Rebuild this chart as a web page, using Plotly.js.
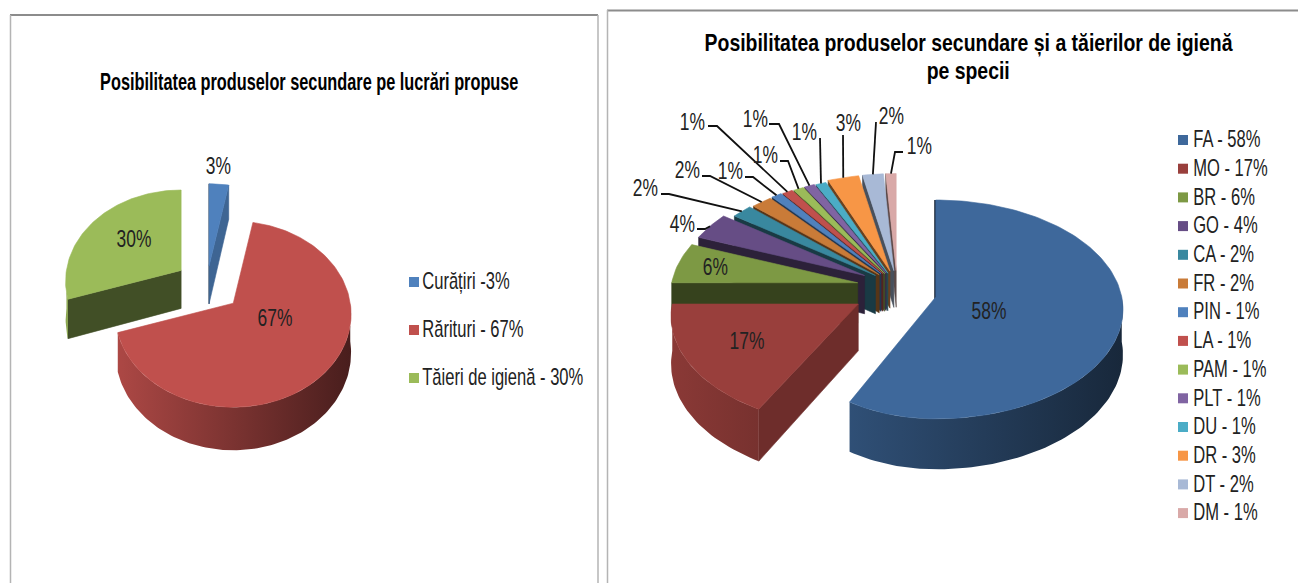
<!DOCTYPE html>
<html>
<head>
<meta charset="utf-8">
<script src="https://cdn.plot.ly/plotly-3.0.1.min.js"></script>
<style>html,body{margin:0;padding:0;background:#fff;overflow:hidden}#chart{width:1298px;height:583px}</style>
</head>
<body>
<div id="chart"></div>
<script>
// ---- data ----
const leftCategories = ["Curățiri", "Rărituri", "Tăieri de igienă"];
const leftValues = [3, 67, 30];
const leftLegendLabels = ["Curățiri -3%", "Rărituri - 67%", "Tăieri de igienă - 30%"];
const leftColors = ["#4f81bd", "#c0504d", "#9bbb59"];

const rightCategories = ["FA","MO","BR","GO","CA","FR","PIN","LA","PAM","PLT","DU","DR","DT","DM"];
const rightValues = [58, 17, 6, 4, 2, 2, 1, 1, 1, 1, 1, 3, 2, 1];
const rightLegendLabels = ["FA - 58%","MO - 17%","BR - 6%","GO - 4%","CA - 2%","FR - 2%","PIN - 1%","LA - 1%","PAM - 1%","PLT - 1%","DU - 1%","DR - 3%","DT - 2%","DM - 1%"];
const rightColors = ["#3e689b","#993f3c","#7d9944","#664d85","#39889f","#c97b38","#4f81bd","#c0504d","#9bbb59","#8064a2","#4bacc6","#f79646","#a8b9d6","#d9a9a8"];

// ---- layout / geometry (pixel-scaled axes) ----
const FONT = '"Liberation Sans", Arial, sans-serif';
const leftGeom = {cx:207, cy:284, f:.83, rx:117, ry:91.7, k:.118, pulls:[22,35,32],
  scales:{2:.98}, leftRx:{}, nudgeY:{2:2}, edgeWidth:{}, depth:() => 38};
const rightGeom = {cx:897, cy:288, f:.7, rx:186, ry:108, k:.114,
  pulls:[40,45,40,37,28,26,26,25,24,24,23,25,25,25],
  scales:{}, leftRx:{0:161}, nudgeY:{0:2}, edgeWidth:{0:3},
  depth:(ay) => 42 + .3*(ay-288)};
const leftLabelPos = [[218,165],[275,317],[134,238]];
const rightLabelPos = [[989,310],[747,340],[715,266],[682,223],[645,187],[687,169],[730,170],[692,121],[765,154],[755,118],[804,131],[848,122],[891,115],[919,145]];
const rightLeaders = {3:[705,229,697,229],4:[669,194,661,194],5:[710,176,702,176],6:[753,177,745,177],7:[717,126,708,126],8:[788,161,780,161],9:[779,124,769,124],10:[820,138,820,138],11:[843,135,843,135],12:[876,122,876,122],13:[895,152,903,152]};

const rad = d => d*Math.PI/180;
function hex(c){return [1,3,5].map(i=>parseInt(c.substr(i,2),16));}
function shade(c,f){return 'rgb('+hex(c).map(v=>Math.round(v*f)).join(',')+')';}

function pie3d(values, colors, names, g){
  const total = values.reduce((a,b)=>a+b,0);
  const out = [], rims = [];
  let acc = 0;
  const slices = values.map((v,i)=>{
    const a0 = acc/total*360; acc += v; const a1 = acc/total*360;
    const mid = rad((a0+a1)/2);
    const ax = g.cx + Math.sin(mid)*g.pulls[i];
    const ay = g.cy - Math.cos(mid)*g.pulls[i]*g.f + (g.nudgeY[i]||0);
    return {a0,a1,ax,ay,i};
  });
  const P = (s,a) => {
    const Z = Math.cos(rad(a)), X = Math.sin(rad(a)), q = 1/(1+g.k*Z);
    const sc = g.scales[s.i]||1;
    const rx = (X<0 && g.leftRx[s.i]) ? g.leftRx[s.i] : g.rx;
    return {x:s.ax+rx*sc*X*q, y:s.ay-g.ry*sc*Z*q, q};
  };
  const arc = (s,a,b) => {
    const n = Math.max(2,Math.ceil((b-a)/1.5)+1), r=[];
    for(let j=0;j<n;j++) r.push(P(s,a+(b-a)*j/(n-1)));
    return r;
  };
  const poly = (xs,ys,color,extra) => Object.assign({type:'scatter',mode:'lines',x:xs,y:ys,fill:'toself',
    fillcolor:color,line:{color:color,width:.6},hoverinfo:'skip',showlegend:false},extra||{});
  const radialWall = (s,a,color,w) => {
    const d = g.depth(s.ay), p = P(s,a);
    return poly([s.ax,p.x,p.x,s.ax,s.ax],[s.ay,p.y,p.y+d*p.q,s.ay+d,s.ay],color,{line:{color:color,width:w||.6}});
  };
  slices.slice().reverse().forEach(s=>{
    const c = colors[s.i];
    // side faces
    if(s.a0===0) out.push(radialWall(s,0,shade(c,.3),g.edgeWidth[s.i]));
    if(s.a0>180) out.push(radialWall(s,s.a0, shade(c, s.a0<270 ? .72-(s.a0-208.8)*.0069 : .43)));
    if(s.a1>0 && s.a1<180) out.push(radialWall(s,s.a1,shade(c,.78)));
    // outer wall with light falling from the left
    const w0 = Math.max(s.a0,90), w1 = Math.min(s.a1,270);
    if(w1>w0){
      const top = arc(s,w0,w1), d = g.depth(s.ay);
      const xs = top.map(p=>p.x).concat(top.slice().reverse().map(p=>p.x));
      const ys = top.map(p=>p.y).concat(top.slice().reverse().map(p=>p.y+d*p.q));
      xs.push(xs[0]); ys.push(ys[0]);
      out.push(poly(xs,ys,'rgba(0,0,0,0)',{line:{width:0},fillcolor:undefined,
        fillgradient:{type:'horizontal',start:s.ax-g.rx,stop:s.ax+g.rx,
          colorscale:[[0,shade(c,.9)],[1,shade(c,.38)]]}}));
    }
    // top face
    const rim = arc(s,s.a0,s.a1);
    rims[s.i] = P(s,(s.a0+s.a1)/2);
    out.push(poly([s.ax].concat(rim.map(p=>p.x),[s.ax]),[s.ay].concat(rim.map(p=>p.y),[s.ay]),c,
      {hoverinfo:'text',text:names[s.i]+': '+values[s.i]+'%',hoveron:'fills'}));
  });
  return {traces:out, rims};
}

const L = pie3d(leftValues,leftColors,leftCategories,leftGeom);
const R = pie3d(rightValues,rightColors,rightCategories,rightGeom);

// leader lines
const leaderTraces = Object.keys(rightLeaders).map(k=>{
  const r = R.rims[k], b = rightLeaders[k];
  return {type:'scatter',mode:'lines',x:[r.x,b[0],b[2]],y:[r.y,b[1],b[3]],
    line:{color:'#111',width:1.8},hoverinfo:'skip',showlegend:false};
});

// legends drawn as marker+text rows
function legendTrace(labels,colors,x,y0,step){
  return {type:'scatter',mode:'markers+text',
    x:labels.map(()=>x), y:labels.map((_,i)=>y0+i*step),
    text:labels, textposition:'middle right', cliponaxis:false,
    textfont:{family:FONT,size:23,color:'#222'},
    marker:{symbol:'square',size:10,color:colors,line:{width:0}},
    hoverinfo:'skip',showlegend:false};
}

const pctAnn = (vals,pos) => vals.map((v,i)=>({x:pos[i][0],y:pos[i][1],text:v+'%',showarrow:false,
  xref:'x',yref:'y',xanchor:'center',yanchor:'middle',font:{family:FONT,size:24,color:'#222'}}));
const titleAnn = (text,x,y) => ({x,y,text:'<b>'+text+'</b>',showarrow:false,xref:'x',yref:'y',
  xanchor:'center',yanchor:'middle',font:{family:FONT,size:23,color:'#000'}});

const frameLine = (x0,y0,x1,y1,color,w) => ({type:'line',xref:'x',yref:'y',x0,y0,x1,y1,layer:'below',line:{color,width:w}});

const data = [].concat(L.traces,R.traces,leaderTraces,
  [legendTrace(leftLegendLabels,leftColors,414,282,48),
   legendTrace(rightLegendLabels,rightColors,1183,140,28.7)]);

const layout = {
  width:1298,height:583,margin:{l:0,r:0,t:0,b:0},
  paper_bgcolor:'#fff',plot_bgcolor:'#fff',showlegend:false,hovermode:'closest',
  xaxis:{range:[0,1298],visible:false,fixedrange:true},
  yaxis:{range:[583,0],visible:false,fixedrange:true},
  shapes:[
    frameLine(10,15,598,15,'#8c8c8c',2),
    frameLine(10.5,15,10.5,583,'#b4b4b4',1.5),
    frameLine(598,15,598,583,'#b4b4b4',1.5),
    frameLine(607,10.5,1298,10.5,'#8c8c8c',2),
    frameLine(607.5,10,607.5,583,'#b4b4b4',1.5)
  ],
  annotations:[].concat(
    pctAnn(leftValues,leftLabelPos),
    pctAnn(rightValues,rightLabelPos),
    [titleAnn('Posibilitatea produselor secundare pe lucrări propuse',309,82),
     titleAnn('Posibilitatea produselor secundare și a tăierilor de igienă',968,43),
     titleAnn('pe specii',968,71)])
};

// the reference uses a condensed face: squeeze each real text node horizontally about its anchor
function condense(){
  const gd = document.getElementById('chart');
  const squeeze = (el,sx,dx,dy) => {
    const ax = parseFloat(el.getAttribute('x'))||0;
    el.setAttribute('transform','translate('+(ax+dx)+','+dy+') scale('+sx+',1) translate('+(-ax)+',0)');
  };
  gd.querySelectorAll('.annotation-text').forEach(t=>{
    const s = t.textContent;
    const sx = s.indexOf('lucrări')>=0 ? .709 : (s.indexOf('Posibilitatea')===0 || s==='pe specii') ? .845 : .725;
    squeeze(t,sx,0,0);
  });
  gd.querySelectorAll('.textpoint text').forEach(t=>{
    const right = (parseFloat(t.getAttribute('x'))||0) > 1000;
    squeeze(t,.72,right?3:1,1.5);
  });
}
Plotly.newPlot('chart',data,layout,{displayModeBar:false}).then(condense);
document.getElementById('chart').on('plotly_afterplot',condense);
</script>
</body>
</html>
